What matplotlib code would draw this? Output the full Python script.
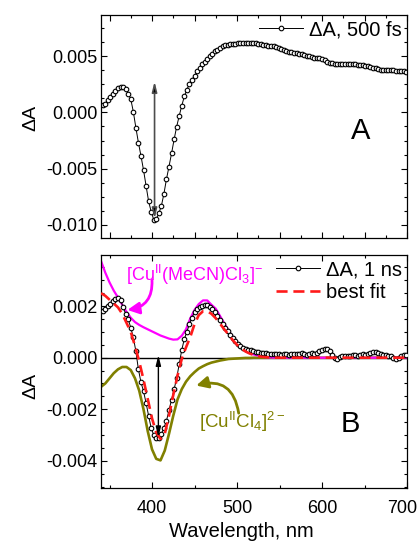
import numpy as np
import matplotlib
matplotlib.use("Agg")
import matplotlib.pyplot as plt
from matplotlib.ticker import MultipleLocator, AutoMinorLocator, FormatStrFormatter
from matplotlib.transforms import ScaledTranslation

plt.rcParams['font.family'] = ['Liberation Sans', 'DejaVu Sans']
plt.rcParams['mathtext.fontset'] = 'custom'
plt.rcParams['mathtext.rm'] = 'Liberation Sans'
plt.rcParams['mathtext.it'] = 'Liberation Sans:italic'
plt.rcParams['axes.unicode_minus'] = False

# measured spectra, wavelength in nm, dA in units of 1e-3
wl = [342, 345, 348, 351, 354, 357, 360, 363, 366, 369,
      372, 375, 378, 381, 384, 387, 390, 393, 396, 399,
      402, 405, 408, 411, 414, 417, 420, 423, 426, 429,
      432, 435, 438, 441, 444, 447, 450, 453, 456, 459,
      462, 465, 468, 471, 474, 477, 480, 483, 486, 489,
      492, 495, 498, 501, 504, 507, 510, 513, 516, 519,
      522, 525, 528, 531, 534, 537, 540, 543, 546, 549,
      552, 555, 558, 561, 564, 567, 570, 573, 576, 579,
      582, 585, 588, 591, 594, 597, 600, 603, 606, 609,
      612, 615, 618, 621, 624, 627, 630, 633, 636, 639,
      642, 645, 648, 651, 654, 657, 660, 663, 666, 669,
      672, 675, 678, 681, 684, 687, 690, 693, 696, 699]

da_500fs = [0.65, 0.80, 1.08, 1.38, 1.68, 1.96, 2.18, 2.26, 2.26, 2.12,
            1.67, 1.20, 0.08, -1.35, -2.68, -3.87, -5.12, -6.53, -7.92, -8.85,
            -9.55, -9.52, -9.00, -8.35, -7.26, -5.95, -4.82, -3.65, -2.41, -1.27,
            -0.30, 0.60, 1.43, 2.05, 2.54, 2.94, 3.26, 3.66, 3.98, 4.30,
            4.55, 4.80, 5.02, 5.25, 5.45, 5.62, 5.78, 5.90, 6.00, 6.06,
            6.10, 6.13, 6.15, 6.16, 6.18, 6.20, 6.21, 6.21, 6.21, 6.20,
            6.18, 6.15, 6.11, 6.06, 6.01, 5.97, 5.93, 5.89, 5.80, 5.72,
            5.63, 5.56, 5.48, 5.42, 5.37, 5.32, 5.27, 5.22, 5.18, 5.12,
            5.05, 5.00, 4.94, 4.89, 4.86, 4.82, 4.76, 4.67, 4.55, 4.43,
            4.38, 4.37, 4.36, 4.37, 4.37, 4.36, 4.36, 4.34, 4.33, 4.32,
            4.28, 4.24, 4.20, 4.15, 4.11, 4.06, 4.00, 3.93, 3.86, 3.81,
            3.78, 3.77, 3.77, 3.76, 3.75, 3.74, 3.72, 3.68, 3.66, 3.65]

da_1ns = [1.80, 1.90, 2.00, 2.10, 2.19, 2.27, 2.30, 2.25, 1.95, 1.70,
          1.50, 1.16, 0.80, 0.25, -0.45, -0.95, -1.30, -1.75, -2.25, -2.72,
          -3.00, -3.13, -3.10, -2.95, -2.72, -2.45, -2.03, -1.63, -1.22, -0.80,
          -0.25, 0.30, 0.72, 1.00, 1.30, 1.55, 1.76, 1.88, 1.96, 2.01,
          2.05, 2.04, 1.97, 1.87, 1.76, 1.62, 1.46, 1.32, 1.17, 1.02,
          0.89, 0.76, 0.64, 0.53, 0.45, 0.38, 0.34, 0.31, 0.28, 0.25,
          0.23, 0.21, 0.19, 0.18, 0.17, 0.16, 0.15, 0.14, 0.13, 0.14,
          0.12, 0.13, 0.15, 0.12, 0.14, 0.16, 0.13, 0.15, 0.17, 0.14,
          0.12, 0.15, 0.17, 0.16, 0.20, 0.26, 0.30, 0.34, 0.33, 0.25,
          0.10, -0.03, -0.06, 0.02, 0.06, 0.05, 0.08, 0.06, 0.09, 0.10,
          0.08, 0.11, 0.13, 0.10, 0.14, 0.18, 0.22, 0.24, 0.20, 0.14,
          0.12, 0.10, 0.08, 0.06, 0.00, -0.04, -0.02, 0.05, 0.10, 0.12]

# reference spectra and fit
wl_ref = [340, 345, 350, 355, 360, 365, 370, 375, 380, 385,
          390, 395, 400, 405, 410, 415, 420, 425, 430, 435,
          440, 445, 450, 455, 460, 465, 470, 475, 480, 485,
          490, 495, 500, 505, 510, 515, 520, 525, 530, 535,
          540, 545, 550, 560, 580, 600, 650, 700]

cu_mecn = [3.75, 3.30, 2.92, 2.60, 2.33, 2.05, 1.78, 1.55, 1.38, 1.27,
           1.18, 1.10, 1.02, 0.94, 0.86, 0.80, 0.74, 0.70, 0.71, 0.85,
           1.10, 1.52, 1.85, 2.08, 2.22, 2.22, 2.05, 1.90, 1.62, 1.33,
           1.05, 0.80, 0.56, 0.38, 0.27, 0.19, 0.12, 0.08, 0.04, 0.02,
           0.01, 0.00, 0.00, 0.00, 0.00, 0.00, 0.00, 0.00]

cu_cl4 = [-1.13, -1.00, -0.80, -0.60, -0.45, -0.36, -0.36, -0.48, -0.80, -1.28,
          -2.00, -2.85, -3.55, -3.92, -3.98, -3.60, -2.95, -2.25, -1.62, -1.22,
          -0.93, -0.72, -0.56, -0.42, -0.33, -0.25, -0.19, -0.15, -0.11, -0.08,
          -0.05, -0.04, -0.03, -0.02, -0.01, -0.01, 0.00, 0.00, 0.00, 0.00,
          0.00, 0.00, 0.00, 0.00, 0.00, 0.00, 0.00, 0.00]

best_fit = [2.50, 2.40, 2.25, 2.10, 1.95, 1.70, 1.35, 1.00, 0.45, -0.15,
            -0.85, -1.60, -2.35, -2.90, -3.15, -2.95, -2.25, -1.45, -0.70, -0.05,
            0.40, 0.80, 1.30, 1.65, 1.80, 1.80, 1.70, 1.53, 1.32, 1.10,
            0.90, 0.68, 0.50, 0.36, 0.24, 0.16, 0.10, 0.06, 0.03, 0.02,
            0.01, 0.00, 0.00, 0.00, 0.00, 0.00, 0.00, 0.00]

scale = 1e-3

fig = plt.figure(figsize=(4.19, 5.45), dpi=100)
ax1 = fig.add_axes([101 / 419, 1 - 238 / 545, 306 / 419, 223 / 545])
ax2 = fig.add_axes([101 / 419, 1 - 488 / 545, 306 / 419, 233 / 545])

circ = dict(marker='o', ms=3.3, mfc='white', mec='black', mew=0.8,
            color='black', lw=0.7)

# --- panel A ---
ax1.plot(wl, np.array(da_500fs) * scale, label='ΔA, 500 fs', **circ)
ax1.annotate('', xy=(403, 0.00277), xytext=(403, -0.00948),
             arrowprops=dict(arrowstyle='<|-|>,head_length=0.6,head_width=0.15',
                             fc='black', ec='0.3', lw=1.2,
                             shrinkA=0, shrinkB=0))
ax1.text(645, -0.00163, 'A', fontsize=21, ha='center', va='center')
ax1.set_xlim(340, 700)
ax1.set_ylim(-0.0112, 0.0087)
ax1.xaxis.set_major_locator(MultipleLocator(50))
ax1.xaxis.set_minor_locator(MultipleLocator(25))
ax1.yaxis.set_major_locator(MultipleLocator(0.005))
ax1.yaxis.set_minor_locator(AutoMinorLocator(4))
ax1.yaxis.set_major_formatter(FormatStrFormatter('%.3f'))
ax1.tick_params(axis='x', labelbottom=False)
ax1.set_ylabel('ΔA', fontsize=14)
ax1.yaxis.set_label_coords(-0.2, 0.54)
ax1.legend(loc='upper right', frameon=False, fontsize=14.5, handlelength=2.2,
           handletextpad=0.3, borderaxespad=0.1, borderpad=0.15, numpoints=1)

# --- panel B ---
ax2.axhline(0, color='black', lw=1.0, zorder=1)
ax2.plot(wl_ref, np.array(cu_cl4) * scale, color='#808000', lw=1.9, zorder=2)
ax2.plot(wl_ref, np.array(cu_mecn) * scale, color='#ff00ff', lw=1.6, zorder=2)
ax2.plot(wl, np.array(da_1ns) * scale, label='ΔA, 1 ns', zorder=3, **circ)
ax2.plot(wl_ref, np.array(best_fit) * scale, color='#ff1a1a', lw=1.9,
         dashes=(4.2, 2.2), label='best fit', zorder=4)

ax2.annotate('', xy=(407.5, 0.0001), xytext=(407.5, -0.00308),
             arrowprops=dict(arrowstyle='<|-|>,head_length=0.6,head_width=0.15',
                             color='black', lw=1.0, shrinkA=0, shrinkB=0),
             zorder=5)

ax2.text(369, 0.00299, r'[Cu$^{\mathrm{II}}$(MeCN)Cl$_{3}$]$^{-}$',
         color='#ff00ff', fontsize=13, ha='left', va='baseline')
ax2.annotate('', xy=(371, 0.00185), xytext=(400, 0.00300),
             arrowprops=dict(arrowstyle='-|>,head_length=0.7,head_width=0.35',
                             connectionstyle='arc3,rad=-0.45',
                             color='#ff00ff', lw=2.0, shrinkA=0, shrinkB=0))

ax2.text(455, -0.00273, r'[Cu$^{\mathrm{II}}$Cl$_{4}$]$^{2-}$',
         color='#808000', fontsize=13.5, ha='left', va='baseline')
ax2.annotate('', xy=(452, -0.00108), xytext=(502, -0.00215),
             arrowprops=dict(arrowstyle='-|>,head_length=0.7,head_width=0.35',
                             connectionstyle='arc3,rad=0.55',
                             color='#808000', lw=2.0, shrinkA=0, shrinkB=0))

ax2.text(633, -0.00257, 'B', fontsize=21, ha='center', va='center')
ax2.set_xlim(340, 700)
ax2.set_ylim(-0.00505, 0.00398)
ax2.xaxis.set_major_locator(MultipleLocator(100))
ax2.xaxis.set_minor_locator(MultipleLocator(50))
ax2.yaxis.set_major_locator(MultipleLocator(0.002))
ax2.yaxis.set_minor_locator(AutoMinorLocator(4))
ax2.yaxis.set_major_formatter(FormatStrFormatter('%.3f'))
ax2.set_ylabel('ΔA', fontsize=14)
ax2.yaxis.set_label_coords(-0.2, 0.44)
ax2.set_xlabel('Wavelength, nm', fontsize=14.5)
ax2.xaxis.set_label_coords(0.46, -0.145)
ax2.legend(loc='upper right', frameon=False, fontsize=14.5, handlelength=2.2,
           handletextpad=0.3, borderaxespad=0.1, borderpad=0.15,
           labelspacing=0.2, numpoints=1)

for ax in (ax1, ax2):
    ax.tick_params(which='both', direction='in', top=True, right=True,
                   labelsize=13, pad=2.5)
    ax.tick_params(which='major', length=4, width=0.8)
    ax.tick_params(which='minor', length=2.5, width=0.8)
    ax.tick_params(axis='x', pad=8.5)
    for sp in ax.spines.values():
        sp.set_linewidth(0.9)

# the last x tick label sits right at the figure edge, nudge it in a little
fig.canvas.draw()
for lab in ax2.get_xticklabels():
    if lab.get_text() == '700':
        lab.set_transform(lab.get_transform()
                          + ScaledTranslation(-0.05, 0, fig.dpi_scale_trans))

fig.savefig('out.png', dpi=100)
